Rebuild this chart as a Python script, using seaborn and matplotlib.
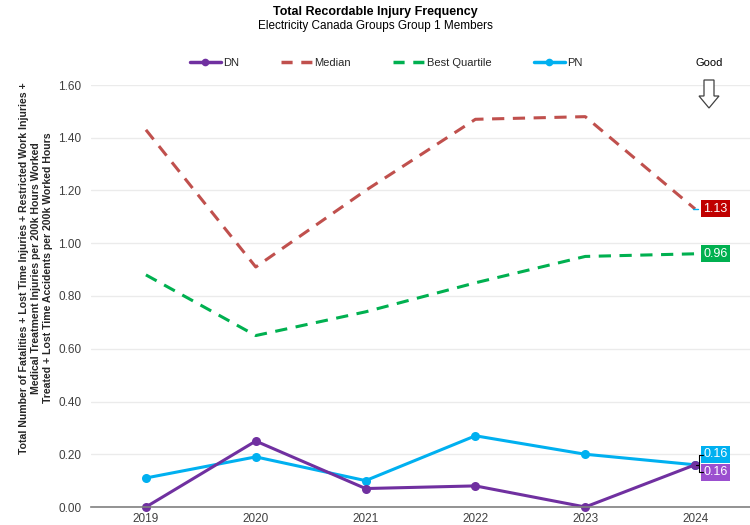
import matplotlib
matplotlib.use("Agg")
import matplotlib.pyplot as plt
import matplotlib.transforms as mtransforms
from matplotlib.lines import Line2D
import pandas as pd
import seaborn as sns

# data
years = ["2019", "2020", "2021", "2022", "2023", "2024"]
dn = [0.00, 0.25, 0.07, 0.08, 0.00, 0.16]
median = [1.43, 0.91, 1.20, 1.47, 1.48, 1.13]
best_quartile = [0.88, 0.65, 0.74, 0.85, 0.95, 0.96]
pn = [0.11, 0.19, 0.10, 0.27, 0.20, 0.16]

series = {"DN": dn, "Median": median, "Best Quartile": best_quartile, "PN": pn}
colors = {"DN": "#7030A0", "Median": "#C0504D", "Best Quartile": "#00B050", "PN": "#00B0F0"}
label_colors = {"DN": "#9B4FCF", "Median": "#C00000", "Best Quartile": "#00B050", "PN": "#00B0F0"}

df = pd.DataFrame(
    [(s, y, v) for s, vals in series.items() for y, v in zip(years, vals)],
    columns=["Series", "Year", "Value"],
)
df["pos"] = df["Year"].map({y: i for i, y in enumerate(years)})

sns.set_theme(style="white")
plt.rcParams["font.family"] = ["Liberation Sans", "DejaVu Sans"]

fig = plt.figure(figsize=(7.5, 5.25), dpi=100)
ax = fig.add_axes([91 / 750, 1 - 507 / 525, 1 - 91 / 750, (507 - 85) / 525])

for name in ["Median", "Best Quartile"]:
    sns.lineplot(data=df[df["Series"] == name], x="pos", y="Value", ax=ax,
                 color=colors[name], lw=2.2, legend=False)
    ax.lines[-1].set_dashes([4, 2.8])
for name in ["PN", "DN"]:
    sns.lineplot(data=df[df["Series"] == name], x="pos", y="Value", ax=ax,
                 color=colors[name], lw=2.2, marker="o", markersize=6.5,
                 markeredgewidth=0, legend=False, clip_on=False)

ax.set_xlim(-0.5, len(years) - 0.5)
ax.set_ylim(0, 1.6)
ax.set_yticks([i * 0.2 for i in range(9)])
ax.set_yticklabels([f"{i * 0.2:.2f}" for i in range(9)], fontsize=8.5, color="#404040")
ax.set_xticks(range(len(years)))
ax.set_xticklabels(years, fontsize=8.5, color="#404040")
ax.set_xlabel("")
ax.set_ylabel("")
ax.tick_params(axis="x", length=0, pad=4)
ax.tick_params(axis="y", length=0, pad=7)
ax.set_xticks([i - 0.5 for i in range(len(years) + 1)], minor=True)
ax.tick_params(axis="x", which="minor", length=4, color="#808080", width=1)
ax.grid(axis="y", color="#EBEBEB", lw=1)
for side in ["top", "right", "left"]:
    ax.spines[side].set_visible(False)
ax.spines["bottom"].set_color("#808080")
ax.spines["bottom"].set_linewidth(1.2)

# end-of-line value labels (offsets in points)
last = len(years) - 1
offsets = {"Median": 0, "Best Quartile": 0, "PN": 7.5, "DN": -5.5}
for name, vals in series.items():
    tr = ax.transData + mtransforms.ScaledTranslation(6 / 72, offsets[name] / 72, fig.dpi_scale_trans)
    ax.text(last, vals[-1], f"{vals[-1]:.2f}", transform=tr, ha="left", va="center",
            fontsize=9, color="white",
            bbox=dict(boxstyle="square,pad=0.2", fc=label_colors[name], ec="none"))

# leader bits next to the labels
inv = fig.transFigure.inverted()
px, py = 1 / 750, 1 / 525
mx, my = inv.transform(ax.transData.transform((last, median[-1])))
fig.add_artist(Line2D([mx - 2 * px, mx + 3 * px], [my, my], color="#00B0F0", lw=1))
x0, y0 = inv.transform(ax.transData.transform((last, pn[-1])))
brace = dict(color="black", lw=0.8)
fig.add_artist(Line2D([x0 + 1 * px, x0 + 4 * px], [y0, y0], **brace))
fig.add_artist(Line2D([x0 + 4 * px, x0 + 4 * px], [y0 - 7 * py, y0 + 10 * py], **brace))
fig.add_artist(Line2D([x0 + 4 * px, x0 + 8 * px], [y0 + 10 * py, y0 + 10 * py], **brace))
fig.add_artist(Line2D([x0 + 4 * px, x0 + 8 * px], [y0 - 7 * py, y0 - 7 * py], **brace))

# titles
fig.text(0.5, 1 - 12 / 525, "Total Recordable Injury Frequency", ha="center", va="center",
         fontsize=9, fontweight="bold", color="black")
fig.text(0.5, 1 - 26 / 525, "Electricity Canada Groups Group 1 Members", ha="center", va="center",
         fontsize=8.5, color="black")

# y axis label (three lines)
ycen = 1 - 268 / 525
ylab = [
    (24, "Total Number of Fatalities + Lost Time Injuries + Restricted Work Injuries +"),
    (36, "Medical Treatment Injuries per 200k Hours Worked"),
    (48, "Treated + Lost Time Accidents per 200k Worked Hours"),
]
for xpix, txt in ylab:
    fig.text(xpix / 750, ycen, txt, rotation=90, ha="center", va="center",
             fontsize=7.6, fontweight="bold", color="#262626")

# legend
handles = [
    Line2D([], [], color=colors["DN"], lw=2.5, marker="o", markersize=5.5, markeredgewidth=0),
    Line2D([], [], color=colors["Median"], lw=2.5, dashes=[3.2, 2.5]),
    Line2D([], [], color=colors["Best Quartile"], lw=2.5, dashes=[3.2, 2.5]),
    Line2D([], [], color=colors["PN"], lw=2.5, marker="o", markersize=5.5, markeredgewidth=0),
]
fig.legend(handles, list(series.keys()), loc="center", bbox_to_anchor=(386 / 750, 1 - 63 / 525),
           ncol=4, frameon=False, fontsize=8, handlelength=2.8, handletextpad=0.2,
           columnspacing=3.8, borderaxespad=0, borderpad=0)

# "Good" direction marker
fig.text(709 / 750, 1 - 63 / 525, "Good", ha="center", va="center", fontsize=8, color="black")
fig.add_artist(plt.Polygon(
    [(704 / 750, 1 - 80 / 525), (714 / 750, 1 - 80 / 525), (714 / 750, 1 - 96 / 525),
     (719 / 750, 1 - 96 / 525), (709 / 750, 1 - 108 / 525), (699 / 750, 1 - 96 / 525),
     (704 / 750, 1 - 96 / 525)],
    closed=True, fc="white", ec="#404040", lw=0.9, transform=fig.transFigure))

fig.savefig("out.png", dpi=100)
